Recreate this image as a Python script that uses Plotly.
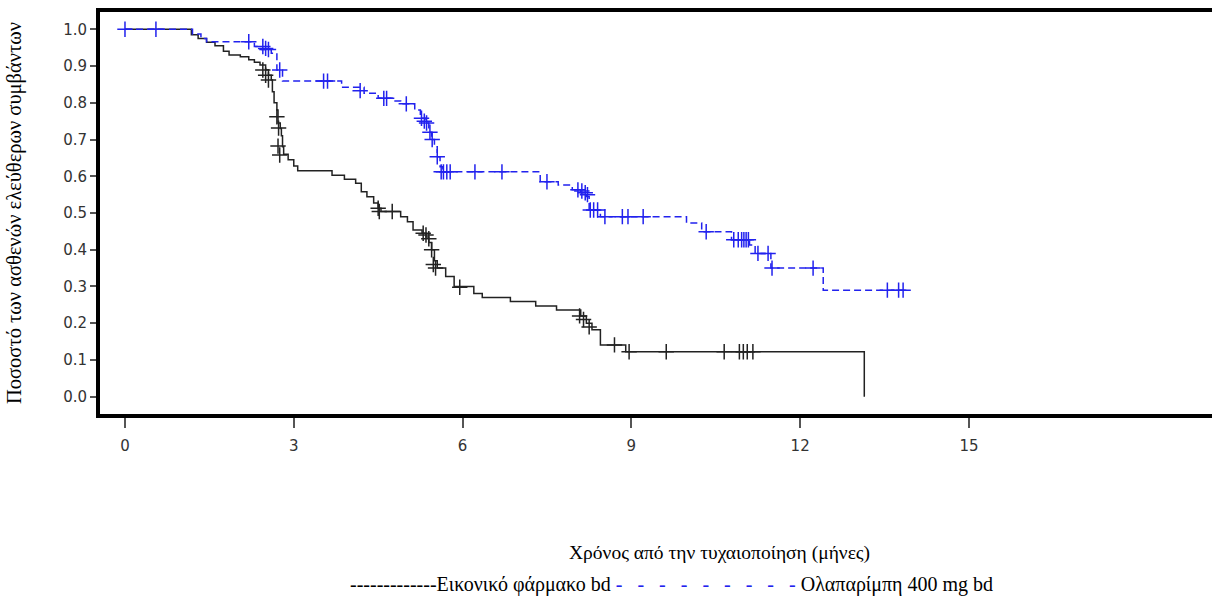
import plotly.graph_objects as go

# ---- data ----
placebo_t = [0, 1.18, 1.3, 1.45, 1.6, 1.75, 1.85, 2.05, 2.2, 2.3, 2.4, 2.5, 2.55, 2.6, 2.62, 2.65,
             2.7, 2.72, 2.76, 2.78, 2.8, 2.82, 2.9, 3.0, 3.07, 3.68, 3.9, 4.1, 4.2, 4.3, 4.42,
             4.5, 4.55, 4.9, 5.02, 5.12, 5.28, 5.35, 5.4, 5.45, 5.5, 5.55, 5.7, 5.85, 6.2,
             6.35, 6.85, 7.3, 7.67, 8.1, 8.2, 8.3, 8.45, 8.9, 13.14]
placebo_s = [1.0, 0.985, 0.975, 0.965, 0.955, 0.94, 0.93, 0.925, 0.917, 0.91, 0.903, 0.89, 0.875,
             0.862, 0.83, 0.80, 0.78, 0.745, 0.73, 0.71, 0.68, 0.66, 0.645, 0.628, 0.615, 0.603,
             0.592, 0.581, 0.558, 0.544, 0.527, 0.513, 0.504, 0.49, 0.476, 0.454, 0.445, 0.435,
             0.42, 0.40, 0.37, 0.35, 0.327, 0.30, 0.281, 0.27, 0.259, 0.247, 0.236, 0.22, 0.20,
             0.182, 0.141, 0.1225, 0.0]
placebo_cens_t = [2.45, 2.5, 2.55, 2.7, 2.73, 2.72, 2.75, 4.5, 4.52, 4.75, 5.3, 5.35, 5.4, 5.45,
                  5.48, 5.52, 5.95, 8.08, 8.15, 8.25, 8.7, 8.96, 9.62, 10.65, 10.92, 10.99, 11.06, 11.16]
placebo_cens_s = [0.889, 0.875, 0.862, 0.762, 0.731, 0.682, 0.658, 0.513, 0.504, 0.504, 0.445,
                  0.44, 0.43, 0.40, 0.36, 0.35, 0.298, 0.22, 0.21, 0.19, 0.141, 0.1225, 0.1225,
                  0.1225, 0.1225, 0.1225, 0.1225, 0.1225]

olap_t = [0, 1.2, 1.35, 1.45, 2.3, 2.4, 2.6, 2.7, 2.8, 3.85, 4.25, 4.5, 4.75, 4.9, 5.15, 5.25,
          5.35, 5.4, 5.45, 5.5, 5.55, 5.6, 5.65, 7.38, 7.7, 7.95, 8.1, 8.2, 8.25, 8.45, 9.98,
          10.25, 10.78, 11.1, 11.2, 11.48, 12.41, 13.85]
olap_s = [1.0, 0.987, 0.975, 0.966, 0.953, 0.945, 0.935, 0.889, 0.859, 0.842, 0.826, 0.812, 0.805,
          0.797, 0.78, 0.758, 0.745, 0.72, 0.70, 0.68, 0.653, 0.626, 0.612, 0.585, 0.576, 0.563,
          0.555, 0.545, 0.508, 0.49, 0.473, 0.449, 0.427, 0.413, 0.39, 0.35, 0.29, 0.29]
olap_cens_t = [0, 0.55, 2.2, 2.45, 2.5, 2.55, 2.75, 3.53, 3.6, 4.18, 4.6, 4.65, 5.0, 5.27, 5.32,
               5.36, 5.42, 5.46, 5.55, 5.62, 5.66, 5.72, 5.78, 6.22, 6.7, 7.5, 8.05, 8.12, 8.18,
               8.22, 8.27, 8.33, 8.4, 8.53, 8.84, 8.94, 9.21, 10.33, 10.82, 10.9, 10.96, 11.0,
               11.04, 11.08, 11.25, 11.43, 11.5, 12.23, 13.55, 13.75, 13.83]
olap_cens_s = [1.0, 1.0, 0.966, 0.953, 0.948, 0.945, 0.889, 0.859, 0.859, 0.833, 0.812, 0.812,
               0.797, 0.758, 0.75, 0.745, 0.72, 0.70, 0.653, 0.612, 0.612, 0.612, 0.612, 0.612,
               0.612, 0.585, 0.563, 0.56, 0.555, 0.55, 0.508, 0.508, 0.508, 0.49, 0.49, 0.49,
               0.49, 0.449, 0.427, 0.427, 0.427, 0.427, 0.427, 0.427, 0.39, 0.39, 0.35, 0.35,
               0.29, 0.29, 0.29]

x_ticks = [0, 3, 6, 9, 12, 15]
y_ticks = [0.0, 0.1, 0.2, 0.3, 0.4, 0.5, 0.6, 0.7, 0.8, 0.9, 1.0]

x_title = "Χρόνος από την τυχαιοποίηση (μήνες)"
y_title = "Ποσοστό των ασθενών ελεύθερων συμβάντων"
legend_placebo = "Εικονικό φάρμακο bd"
legend_olap = "Ολαπαρίμπη 400 mg bd"

BLACK = "#222222"
BLUE = "#2222ee"

fig = go.Figure()
fig.add_trace(go.Scatter(x=placebo_t, y=placebo_s, mode="lines", line_shape="hv",
                         line=dict(color=BLACK, width=1.5), showlegend=False, hoverinfo="skip"))
fig.add_trace(go.Scatter(x=placebo_cens_t, y=placebo_cens_s, mode="markers",
                         marker=dict(symbol="cross-thin", size=11,
                                     line=dict(color=BLACK, width=1.5)),
                         showlegend=False))
fig.add_trace(go.Scatter(x=olap_t, y=olap_s, mode="lines", line_shape="hv",
                         line=dict(color=BLUE, width=1.5, dash="7px,4px"),
                         showlegend=False, hoverinfo="skip"))
fig.add_trace(go.Scatter(x=olap_cens_t, y=olap_cens_s, mode="markers",
                         marker=dict(symbol="cross-thin", size=11,
                                     line=dict(color=BLUE, width=1.5)),
                         showlegend=False))

blue_dashes = "&nbsp;".join(["-"] * 9).replace("&nbsp;", "&nbsp;&nbsp;&nbsp;")

fig.update_layout(
    width=1212, height=600,
    margin=dict(l=100, r=0, t=12, b=186),
    paper_bgcolor="white", plot_bgcolor="white",
    font=dict(family="DejaVu Sans", size=13, color="#333333"),
    xaxis=dict(range=[-0.444, 19.32], tickvals=x_ticks, ticktext=[str(v) for v in x_ticks],
               showgrid=False, zeroline=False, showline=True, linewidth=4, linecolor="black",
               mirror=True, ticks="outside", ticklen=10, tickwidth=2, tickcolor="#555555",
               ticklabelstandoff=5,
               tickfont=dict(family="DejaVu Sans", size=15, color="#333333")),
    yaxis=dict(range=[-0.047, 1.047], tickvals=y_ticks,
               ticktext=[f"{v:.1f}" for v in y_ticks],
               showgrid=False, zeroline=False, showline=True, linewidth=4, linecolor="black",
               ticks="outside", ticklen=6, tickwidth=2, tickcolor="#555555",
               tickfont=dict(family="DejaVu Sans", size=15, color="#333333")),
    annotations=[
        dict(text=y_title, xref="paper", yref="paper", x=-0.0, y=0.5, xshift=-86,
             textangle=-90, showarrow=False, xanchor="center", yanchor="middle",
             font=dict(family="Liberation Serif", size=20.5, color="black")),
        dict(text=x_title, xref="paper", yref="paper", x=0, xshift=619, y=0, yshift=-139,
             showarrow=False, xanchor="center", yanchor="middle",
             font=dict(family="Liberation Serif", size=19.5, color="black")),
        dict(text="-------------" + legend_placebo +
                  " <span style='color:" + BLUE + "'>" + blue_dashes + "</span> " + legend_olap,
             xref="paper", yref="paper", x=0, xshift=571, y=0, yshift=-170,
             showarrow=False, xanchor="center", yanchor="middle",
             font=dict(family="Liberation Serif", size=20, color="black")),
    ],
)

fig.write_html("out.html")
